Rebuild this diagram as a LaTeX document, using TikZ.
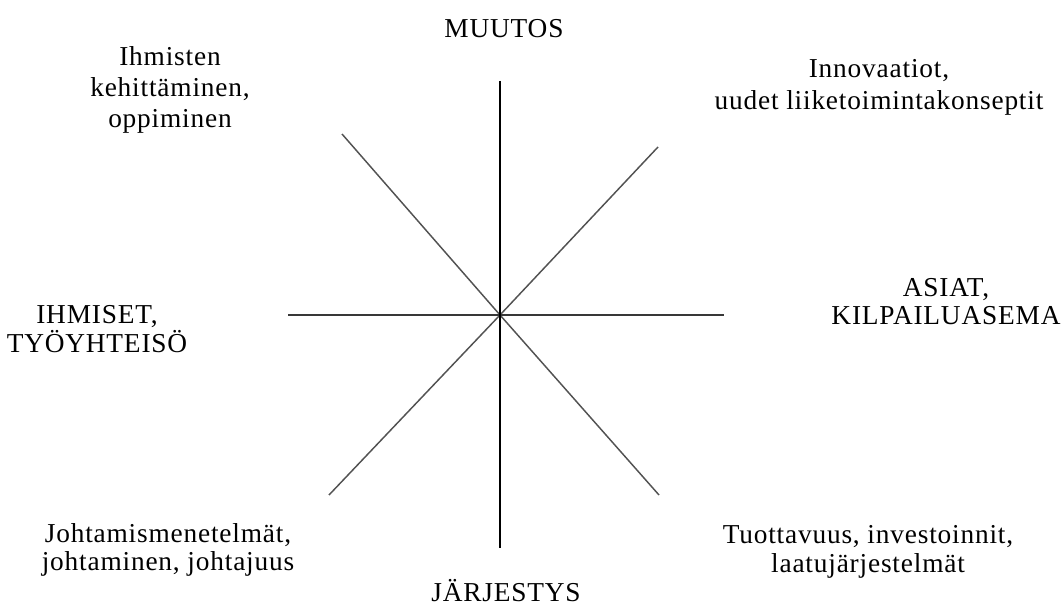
\documentclass[tikz,border=0pt]{standalone}
\usepackage{fontspec}
\setmainfont{Liberation Serif}[LetterSpace=3]
\begin{document}
\begin{tikzpicture}[x=0.75pt,y=-0.75pt,
  lbl/.style={font=\fontsize{20.5}{22}\selectfont, align=center, inner sep=0pt, anchor=base},
  axisv/.style={draw=black, line width=1.1pt},
  axish/.style={draw=black!78, line width=1.1pt},
  diag/.style={draw=black!68, line width=1.1pt}]
\useasboundingbox (0,0) rectangle (1061,606);
% centre and end points
\coordinate (c) at (500,315);
\coordinate (top) at (500,81);
\coordinate (bot) at (500,548);
\coordinate (lft) at (288,315);
\coordinate (rgt) at (724,315);
\coordinate (ul) at (342,134);
\coordinate (ur) at (658,147);
\coordinate (ll) at (329,495);
\coordinate (lr) at (659,495);
% lines
\draw[diag] (c) -- (ul);
\draw[diag] (c) -- (ur);
\draw[diag] (c) -- (ll);
\draw[diag] (c) -- (lr);
\draw[axish] (lft) -- (rgt);
\draw[axisv] (top) -- (bot);
% labels (anchor = baseline of the last line)
\node[lbl] (muutos) at (504,38) {MUUTOS};
\node[lbl] (jarj) at (506,601) {JÄRJESTYS};
\node[lbl, font=\fontsize{20.5}{23.6}\selectfont] (ihm) at (170,128) {Ihmisten\\kehittäminen,\\oppiminen};
\node[lbl, font=\fontsize{20.5}{24}\selectfont] (inno) at (879,110) {Innovaatiot,\\uudet liiketoimintakonseptit};
\node[lbl, font=\fontsize{20.5}{21.75}\selectfont] (ihmiset) at (97,352) {IHMISET,\\TYÖYHTEISÖ};
\node[lbl, font=\fontsize{20.5}{21}\selectfont] (asiat) at (946,325) {ASIAT,\\KILPAILUASEMA};
\node[lbl, font=\fontsize{20.5}{20.5}\selectfont] (johto) at (168,570) {Johtamismenetelmät,\\johtaminen, johtajuus};
\node[lbl, font=\fontsize{20.5}{21.5}\selectfont] (tuot) at (868,572) {Tuottavuus, investoinnit,\\laatujärjestelmät};
\end{tikzpicture}
\end{document}
